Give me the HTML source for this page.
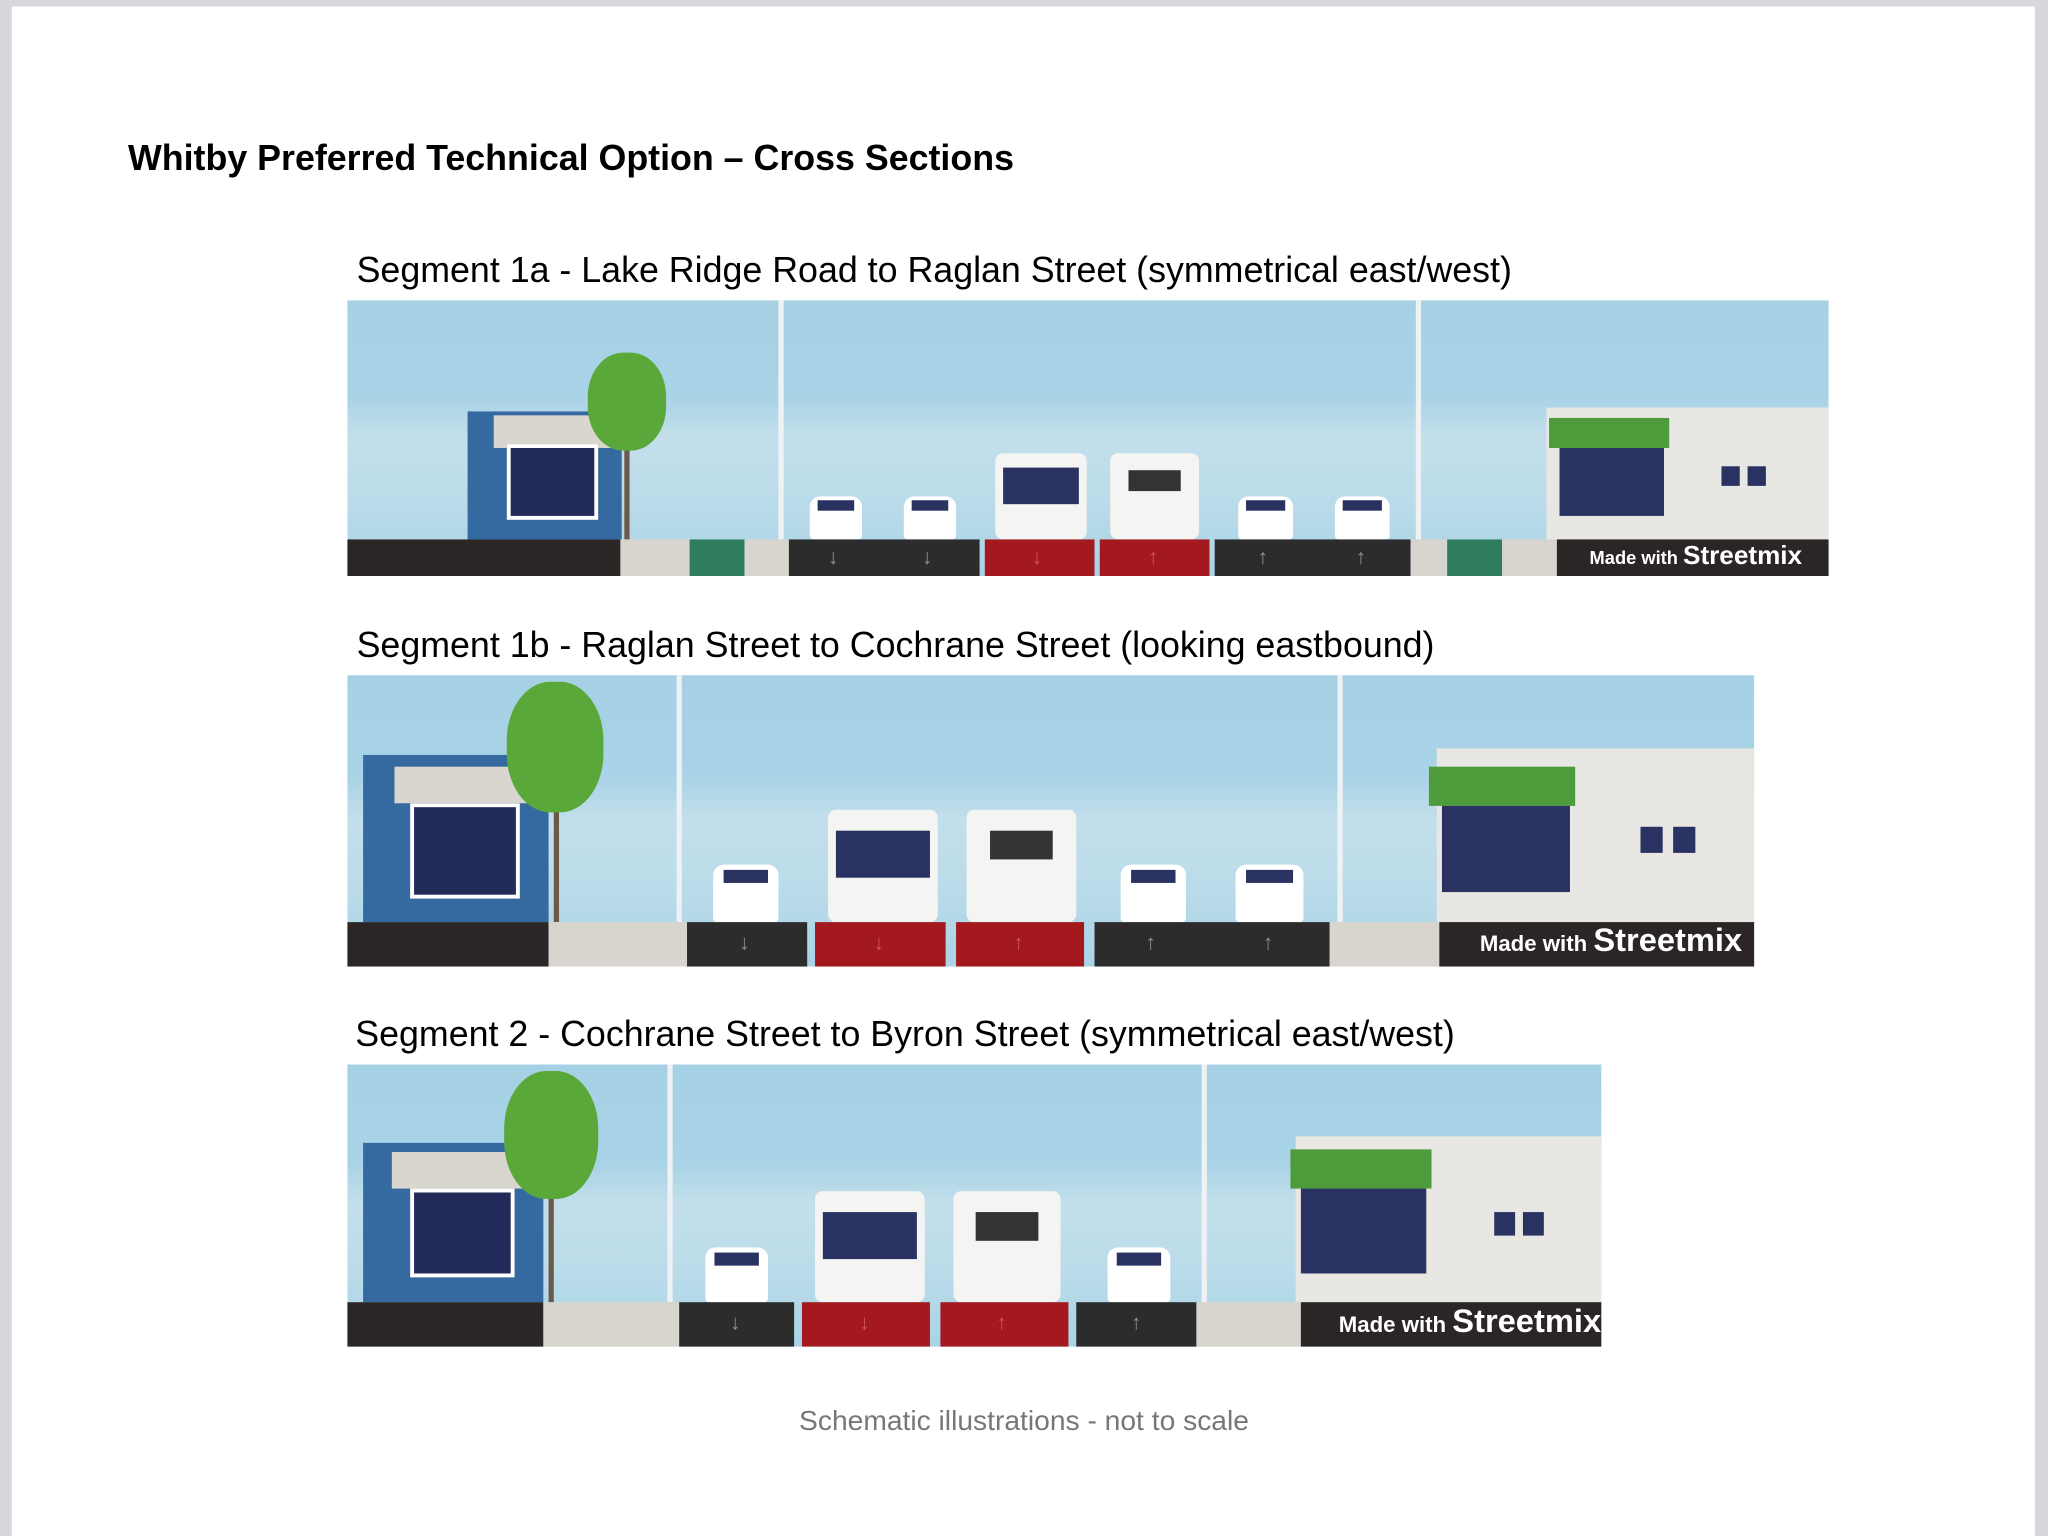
<!DOCTYPE html>
<html><head><meta charset="utf-8"><style>
html,body{margin:0;padding:0;background:#fff;}
body{width:2048px;height:1536px;overflow:hidden;position:relative;}
#w{position:absolute;left:0;top:0;width:1568px;height:1176px;transform:scale(1.306122);transform-origin:0 0;background:#fff;font-family:"Liberation Sans",Arial,sans-serif;}
.a{position:absolute;}
.sky{background:linear-gradient(#a6d1e5 0%,#a9d3e6 35%,#c3dfeb 50%,#bcdcea 70%,#a9d4e6 100%);overflow:hidden;}
.dk{background:#2b2625;}
.rd{background:#a3191e;}
.gy{background:#d8d5cf;}
.gn{background:#2e7d5e;}
.as{background:#2c2c2c;}
.pole{background:#eef2f4;width:4px;}
.bld{background:#356aa0;}
.win{background:#232b5a;border:3px solid #fff;box-sizing:border-box;}
.awn{background:#d9d6cf;}
.wb{background:#e9e7e3;}
.gaw{background:#4e9b3c;}
.car{background:#fff;border-radius:8px 8px 3px 3px;}
.cw{background:#2a3262;}
.bus{background:#f4f4f2;border-radius:6px;}
.trunk{background:#6b5a49;width:4px;}
.leaf{background:#5aa83a;border-radius:45%;}
.lbl{color:#fff;font-weight:bold;white-space:nowrap;}
.ar{position:absolute;color:#8f8f8f;font-size:16px;font-weight:bold;}
.h{font-size:27.4px;color:#000;white-space:nowrap;}
</style></head><body><div id="w">
<div class="a" style="left:0;top:0;width:1568px;height:5px;background:#d8d8dc"></div>
<div class="a" style="left:0;top:0;width:9px;height:1176px;background:#d8d8dc"></div>
<div class="a" style="left:1558px;top:0;width:10px;height:1176px;background:#d8d8dc"></div>

<div class="a h" style="left:98px;top:105px;font-weight:bold">Whitby Preferred Technical Option – Cross Sections</div>
<div class="a h" style="left:273px;top:191px">Segment 1a - Lake Ridge Road to Raglan Street (symmetrical east/west)</div>
<div class="a h" style="left:273px;top:478px">Segment 1b - Raglan Street to Cochrane Street (looking eastbound)</div>
<div class="a h" style="left:272px;top:776px">Segment 2 - Cochrane Street to Byron Street (symmetrical east/west)</div>
<div class="a" style="left:0;width:1568px;top:1075px;text-align:center;font-size:21.6px;color:#777">Schematic illustrations - not to scale</div>

<!-- Panel 1 -->
<div class="a sky" style="left:266px;top:230px;width:1134px;height:211px"></div>
<div class="a pole" style="left:596px;top:230px;height:183px"></div>
<div class="a pole" style="left:1084px;top:230px;height:183px"></div>
<div class="a bld" style="left:358px;top:315px;width:118px;height:98px"></div>
<div class="a awn" style="left:378px;top:318px;width:92px;height:25px"></div>
<div class="a win" style="left:388px;top:340px;width:70px;height:58px"></div>
<div class="a trunk" style="left:478px;top:330px;height:83px"></div>
<div class="a leaf" style="left:450px;top:270px;width:60px;height:75px"></div>
<div class="a wb" style="left:1184px;top:312px;width:216px;height:101px"></div>
<div class="a gaw" style="left:1186px;top:320px;width:92px;height:23px"></div>
<div class="a cw" style="left:1194px;top:343px;width:80px;height:52px"></div>
<div class="a cw" style="left:1318px;top:357px;width:14px;height:15px"></div>
<div class="a cw" style="left:1338px;top:357px;width:14px;height:15px"></div>
<div class="a car" style="left:620px;top:380px;width:40px;height:33px"></div><div class="a cw" style="left:626px;top:383px;width:28px;height:8px"></div>
<div class="a car" style="left:692px;top:380px;width:40px;height:33px"></div><div class="a cw" style="left:698px;top:383px;width:28px;height:8px"></div>
<div class="a car" style="left:948px;top:380px;width:42px;height:33px"></div><div class="a cw" style="left:954px;top:383px;width:30px;height:8px"></div>
<div class="a car" style="left:1022px;top:380px;width:42px;height:33px"></div><div class="a cw" style="left:1028px;top:383px;width:30px;height:8px"></div>
<div class="a bus" style="left:762px;top:347px;width:70px;height:66px"></div><div class="a cw" style="left:768px;top:358px;width:58px;height:28px"></div>
<div class="a bus" style="left:850px;top:347px;width:68px;height:66px"></div><div class="a" style="left:864px;top:360px;width:40px;height:16px;background:#333"></div>
<div class="a dk" style="left:266px;top:413px;width:209px;height:28px"></div>
<div class="a gy" style="left:475px;top:413px;width:53px;height:28px"></div>
<div class="a gn" style="left:528px;top:413px;width:42px;height:28px"></div>
<div class="a gy" style="left:570px;top:413px;width:34px;height:28px"></div>
<div class="a as" style="left:604px;top:413px;width:146px;height:28px"></div>
<div class="a rd" style="left:754px;top:413px;width:84px;height:28px"></div>
<div class="a rd" style="left:842px;top:413px;width:84px;height:28px"></div>
<div class="a as" style="left:930px;top:413px;width:150px;height:28px"></div>
<div class="a gy" style="left:1080px;top:413px;width:28px;height:28px"></div>
<div class="a gn" style="left:1108px;top:413px;width:42px;height:28px"></div>
<div class="a gy" style="left:1150px;top:413px;width:42px;height:28px"></div>
<div class="a dk" style="left:1192px;top:413px;width:208px;height:28px"></div>
<div class="ar" style="left:634px;top:419px">↓</div><div class="ar" style="left:706px;top:419px">↓</div>
<div class="ar" style="left:790px;top:419px;color:#c55">↓</div><div class="ar" style="left:879px;top:419px;color:#c55">↑</div>
<div class="ar" style="left:963px;top:419px">↑</div><div class="ar" style="left:1038px;top:419px">↑</div>
<div class="a lbl" style="left:1217px;top:415px;font-size:14px">Made with <span style="font-size:20px">Streetmix</span></div>

<!-- Panel 2 -->
<div class="a sky" style="left:266px;top:517px;width:1077px;height:223px"></div>
<div class="a pole" style="left:518px;top:517px;height:189px"></div>
<div class="a pole" style="left:1024px;top:517px;height:189px"></div>
<div class="a bld" style="left:278px;top:578px;width:142px;height:128px"></div>
<div class="a awn" style="left:302px;top:587px;width:110px;height:28px"></div>
<div class="a win" style="left:314px;top:615px;width:84px;height:73px"></div>
<div class="a trunk" style="left:424px;top:590px;height:116px"></div>
<div class="a leaf" style="left:388px;top:522px;width:74px;height:100px"></div>
<div class="a wb" style="left:1100px;top:573px;width:243px;height:133px"></div>
<div class="a gaw" style="left:1094px;top:587px;width:112px;height:30px"></div>
<div class="a cw" style="left:1104px;top:617px;width:98px;height:66px"></div>
<div class="a cw" style="left:1256px;top:633px;width:17px;height:20px"></div>
<div class="a cw" style="left:1281px;top:633px;width:17px;height:20px"></div>
<div class="a car" style="left:546px;top:662px;width:50px;height:44px"></div><div class="a cw" style="left:554px;top:666px;width:34px;height:10px"></div>
<div class="a car" style="left:858px;top:662px;width:50px;height:44px"></div><div class="a cw" style="left:866px;top:666px;width:34px;height:10px"></div>
<div class="a car" style="left:946px;top:662px;width:52px;height:44px"></div><div class="a cw" style="left:954px;top:666px;width:36px;height:10px"></div>
<div class="a bus" style="left:634px;top:620px;width:84px;height:86px"></div><div class="a cw" style="left:640px;top:636px;width:72px;height:36px"></div>
<div class="a bus" style="left:740px;top:620px;width:84px;height:86px"></div><div class="a" style="left:758px;top:636px;width:48px;height:22px;background:#333"></div>
<div class="a dk" style="left:266px;top:706px;width:154px;height:34px"></div>
<div class="a gy" style="left:420px;top:706px;width:106px;height:34px"></div>
<div class="a as" style="left:526px;top:706px;width:92px;height:34px"></div>
<div class="a rd" style="left:624px;top:706px;width:100px;height:34px"></div>
<div class="a rd" style="left:732px;top:706px;width:98px;height:34px"></div>
<div class="a as" style="left:838px;top:706px;width:180px;height:34px"></div>
<div class="a gy" style="left:1018px;top:706px;width:84px;height:34px"></div>
<div class="a dk" style="left:1102px;top:706px;width:241px;height:34px"></div>
<div class="ar" style="left:566px;top:714px">↓</div>
<div class="ar" style="left:669px;top:714px;color:#c55">↓</div><div class="ar" style="left:776px;top:714px;color:#c55">↑</div>
<div class="ar" style="left:877px;top:714px">↑</div><div class="ar" style="left:967px;top:714px">↑</div>
<div class="a lbl" style="left:1133px;top:706px;font-size:17px">Made with <span style="font-size:25px">Streetmix</span></div>

<!-- Panel 3 -->
<div class="a sky" style="left:266px;top:815px;width:960px;height:216px"></div>
<div class="a pole" style="left:511px;top:815px;height:182px"></div>
<div class="a pole" style="left:920px;top:815px;height:182px"></div>
<div class="a bld" style="left:278px;top:875px;width:138px;height:122px"></div>
<div class="a awn" style="left:300px;top:882px;width:108px;height:28px"></div>
<div class="a win" style="left:314px;top:910px;width:80px;height:68px"></div>
<div class="a trunk" style="left:420px;top:885px;height:112px"></div>
<div class="a leaf" style="left:386px;top:820px;width:72px;height:98px"></div>
<div class="a wb" style="left:992px;top:870px;width:234px;height:127px"></div>
<div class="a gaw" style="left:988px;top:880px;width:108px;height:30px"></div>
<div class="a cw" style="left:996px;top:910px;width:96px;height:65px"></div>
<div class="a cw" style="left:1144px;top:928px;width:16px;height:18px"></div>
<div class="a cw" style="left:1166px;top:928px;width:16px;height:18px"></div>
<div class="a car" style="left:540px;top:955px;width:48px;height:42px"></div><div class="a cw" style="left:547px;top:959px;width:34px;height:10px"></div>
<div class="a car" style="left:848px;top:955px;width:48px;height:42px"></div><div class="a cw" style="left:855px;top:959px;width:34px;height:10px"></div>
<div class="a bus" style="left:624px;top:912px;width:84px;height:85px"></div><div class="a cw" style="left:630px;top:928px;width:72px;height:36px"></div>
<div class="a bus" style="left:730px;top:912px;width:82px;height:85px"></div><div class="a" style="left:747px;top:928px;width:48px;height:22px;background:#333"></div>
<div class="a dk" style="left:266px;top:997px;width:150px;height:34px"></div>
<div class="a gy" style="left:416px;top:997px;width:104px;height:34px"></div>
<div class="a as" style="left:520px;top:997px;width:88px;height:34px"></div>
<div class="a rd" style="left:614px;top:997px;width:98px;height:34px"></div>
<div class="a rd" style="left:720px;top:997px;width:98px;height:34px"></div>
<div class="a as" style="left:824px;top:997px;width:92px;height:34px"></div>
<div class="a gy" style="left:916px;top:997px;width:80px;height:34px"></div>
<div class="a dk" style="left:996px;top:997px;width:230px;height:34px"></div>
<div class="ar" style="left:559px;top:1005px">↓</div>
<div class="ar" style="left:658px;top:1005px;color:#c55">↓</div><div class="ar" style="left:763px;top:1005px;color:#c55">↑</div>
<div class="ar" style="left:866px;top:1005px">↑</div>
<div class="a lbl" style="left:1025px;top:998px;font-size:17px">Made with <span style="font-size:25px">Streetmix</span></div>
</div></body></html>
